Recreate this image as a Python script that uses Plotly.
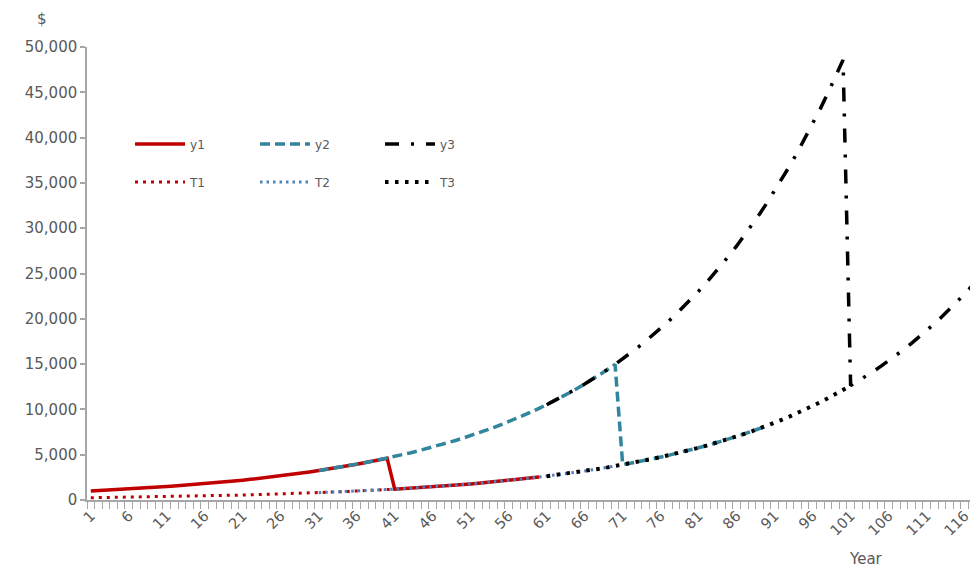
import plotly.graph_objects as go

# Read-off values: the rising "working" path (years 1-100) and the lower path (years 1-117)
upper_path = [1000,1040,1082,1125,1170,1217,1265,1316,1369,1423,
              1480,1539,1601,1665,1732,1801,1873,1948,2026,2107,
              2191,2279,2370,2465,2563,2666,2772,2883,2999,3119,
              3243,3373,3508,3648,3794,3946,4104,4268,4439,4616,
              4801,4993,5193,5401,5617,5841,6075,6318,6571,6833,
              7107,7391,7687,7994,8314,8646,8992,9352,9726,10115,
              10520,10940,11378,11833,12306,12799,13311,13843,14397,14973,
              15572,16194,16842,17516,18217,18945,19703,20491,21311,22163,
              23050,23972,24931,25928,26965,28044,29165,30332,31545,32807,
              34119,35484,36903,38380,39915,41511,43172,44899,46695,48562]
lower_path = [250,260,270,281,292,304,316,329,342,356,
              370,385,400,416,433,450,468,487,506,527,
              548,570,592,616,641,666,693,721,750,780,
              811,843,877,912,949,987,1026,1067,1110,1154,
              1200,1248,1298,1350,1404,1460,1519,1579,1643,1708,
              1777,1848,1922,1999,2078,2162,2248,2338,2431,2529,
              2630,2735,2845,2958,3077,3200,3328,3461,3599,3743,
              3893,4049,4211,4379,4554,4736,4926,5123,5328,5541,
              5762,5993,6233,6482,6741,7011,7291,7583,7886,8202,
              8530,8871,9226,9595,9979,10378,10793,11225,11674,12141,
              12626,13131,13657,14203,14771,15362,15976,16615,17280,17971,
              18690,19438,20215,21024,21865,22739,23649]

years = list(range(1, 118))

y1_x = years[0:60];   y1 = upper_path[0:40] + lower_path[40:60]
y2_x = years[30:90];  y2 = upper_path[30:70] + lower_path[70:90]
y3_x = years[60:117]; y3 = upper_path[60:100] + lower_path[100:117]
T1_x = years[0:41];   T1 = lower_path[0:41]
T2_x = years[30:71];  T2 = lower_path[30:71]
T3_x = years[60:101]; T3 = lower_path[60:101]

tick_years = list(range(1, 117, 5))
y_ticks = list(range(0, 50001, 5000))

FONT = "DejaVu Sans"
GREY = "#595959"
AX = "#A6A6A6"

fig = go.Figure()
fig.add_trace(go.Scatter(x=y1_x, y=y1, name="y1", mode="lines",
                         line=dict(color="#C00000", width=3.5), legend="legend"))
fig.add_trace(go.Scatter(x=y2_x, y=y2, name="y2", mode="lines",
                         line=dict(color="#31859C", width=3.5, dash="10px,5px"), legend="legend"))
fig.add_trace(go.Scatter(x=y3_x, y=y3, name="y3", mode="lines",
                         line=dict(color="#000000", width=3.5, dash="14px,12px,3px,12px"), legend="legend"))
fig.add_trace(go.Scatter(x=T1_x, y=T1, name="T1", mode="lines",
                         line=dict(color="#C00000", width=3, dash="3px,5px"), legend="legend2"))
fig.add_trace(go.Scatter(x=T2_x, y=T2, name="T2", mode="lines",
                         line=dict(color="#4F81BD", width=3, dash="2.5px,4px"), legend="legend2"))
fig.add_trace(go.Scatter(x=T3_x, y=T3, name="T3", mode="lines",
                         line=dict(color="#000000", width=4, dash="3.5px,6.5px"), legend="legend2"))

fig.update_layout(
    width=970, height=561,
    margin=dict(l=79, r=2, t=39, b=69, autoexpand=False),
    paper_bgcolor="white", plot_bgcolor="white",
    font=dict(family=FONT, color=GREY, size=15),
    xaxis=dict(range=[0.5, 117.5], tickmode="array", tickvals=tick_years,
               ticktext=[str(v) for v in tick_years], tickangle=-45,
               ticks="", showgrid=False, zeroline=False, automargin=False,
               showline=True, linecolor=AX, linewidth=1.5,
               tickfont=dict(family=FONT, size=14.5, color=GREY),
               minor=dict(tickmode="linear", tick0=0.5, dtick=1, ticks="outside",
                          ticklen=7, tickcolor=AX, tickwidth=1, showgrid=False)),
    yaxis=dict(range=[0, 50000], tickmode="array", tickvals=y_ticks,
               ticktext=[f"{v:,}" for v in y_ticks], automargin=False,
               ticks="outside", ticklen=5, tickcolor=AX, tickwidth=1.5,
               showgrid=False, zeroline=False,
               showline=True, linecolor=AX, linewidth=1.5,
               tickfont=dict(family=FONT, size=15, color=GREY)),
    legend=dict(orientation="h", x=0.0484, y=0.786, xanchor="left", yanchor="middle",
                entrywidth=60, entrywidthmode="pixels", itemwidth=50, bgcolor="rgba(0,0,0,0)",
                font=dict(family=FONT, size=12, color=GREY), tracegroupgap=0),
    legend2=dict(orientation="h", x=0.0484, y=0.702, xanchor="left", yanchor="middle",
                 entrywidth=60, entrywidthmode="pixels", itemwidth=50, bgcolor="rgba(0,0,0,0)",
                 font=dict(family=FONT, size=12, color=GREY), tracegroupgap=0),
    annotations=[
        dict(text="$", xref="paper", yref="paper", x=-0.0506, y=1.086, showarrow=False,
             xanchor="center", yanchor="top", font=dict(family=FONT, size=15, color=GREY)),
        dict(text="Year", xref="paper", yref="paper", x=0.876, y=-0.130, showarrow=False,
             xanchor="center", yanchor="middle", font=dict(family=FONT, size=15, color=GREY)),
    ],
)

fig.write_html("out.html")
